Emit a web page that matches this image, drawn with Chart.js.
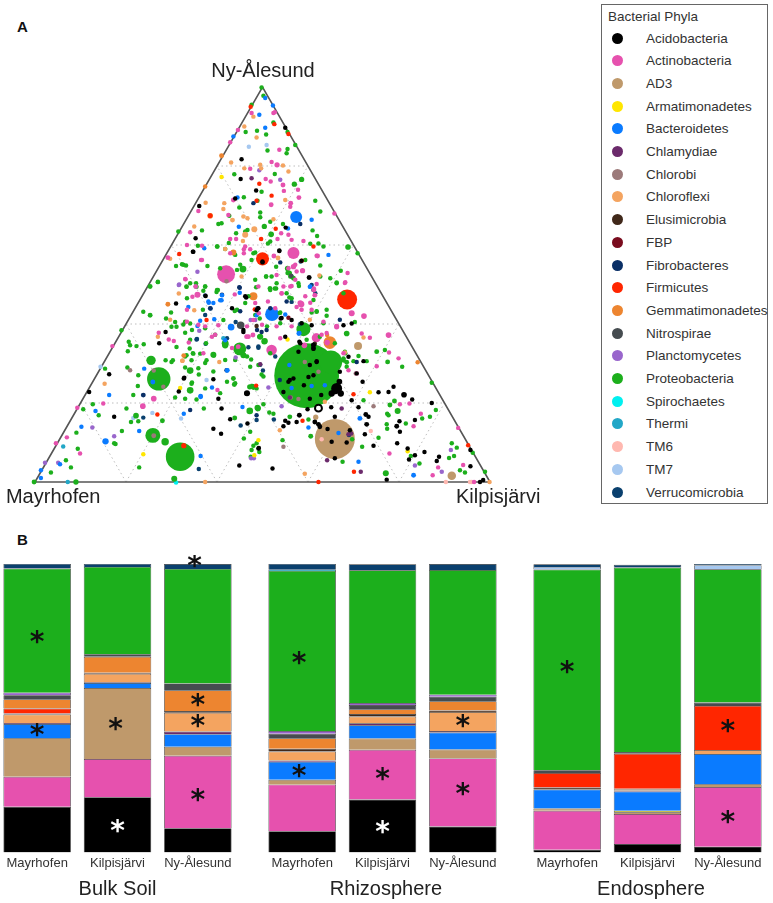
<!DOCTYPE html>
<html>
<head>
<meta charset="utf-8">
<title>Bacterial phyla</title>
<script src="https://cdn.jsdelivr.net/npm/chart.js@4/dist/chart.umd.min.js"></script>
<style>
  html, body { margin: 0; background: #fff; }
  #page { position: relative; width: 773px; height: 903px; overflow: hidden; font-family: "Liberation Sans", Arial, sans-serif; color: #333; }
  canvas { position: absolute; }
  .tag { position: absolute; font-weight: bold; font-size: 15px; color: #111; }
  #legend { position: absolute; left: 601px; top: 4px; width: 165px; height: 498px; border: 1px solid #666; font-size: 13.5px; }
  #legend .head { position: absolute; left: 6px; top: 4px; }
  #legend .row { position: absolute; left: 0; height: 16px; line-height: 16px; white-space: nowrap; }
  #legend .dot { position: absolute; left: 10px; top: 2px; width: 11px; height: 11px; border-radius: 50%; }
  #legend .name { position: absolute; left: 44px; }
</style>
</head>
<body>
<div id="page">
  <div class="tag" style="left:17px;top:18px">A</div>
  <div class="tag" style="left:17px;top:531px">B</div>
  <canvas id="ternary" width="600" height="520" style="left:0;top:0"></canvas>
  <canvas id="bulk" width="241" height="348" style="left:-3px;top:555px"></canvas>
  <canvas id="rhizo" width="248" height="348" style="left:262px;top:555px"></canvas>
  <canvas id="endo" width="246" height="348" style="left:527px;top:555px"></canvas>
  <div id="legend"><div class="head">Bacterial Phyla</div></div>
</div>
<script>
// Phyla in legend and stacking order
const phyla = ["Acidobacteria", "Actinobacteria", "AD3", "Armatimonadetes", "Bacteroidetes", "Chlamydiae", "Chlorobi", "Chloroflexi", "Elusimicrobia", "FBP", "Fibrobacteres", "Firmicutes", "Gemmatimonadetes", "Nitrospirae", "Planctomycetes", "Proteobacteria", "Spirochaetes", "Thermi", "TM6", "TM7", "Verrucomicrobia"];
const colours = ["#000000", "#e651ae", "#bf996b", "#ffe600", "#0a7bff", "#6b2a6b", "#9c7a7a", "#f4a460", "#40281a", "#7a0c1e", "#0a2f66", "#ff2600", "#ed8530", "#464c50", "#9966cc", "#1caf1c", "#00f0f0", "#22a7c7", "#ffb8b0", "#a6c8f0", "#0a406e"];

// Ternary plot: [position along base %, height %, abundance (optional)]
const acidobacteriaPts = [[55,89.7],[45.4,81.7],[45.2,76.7],[48.6,73.8],[44,71.8],[36.1,69.9],[55.1,64.4],[35.3,61.7],[34.7,58.3],[53.7,58.5],[50,55.6],[60.2,51.8],[31,45.2],[37.5,47.1],[46.4,46.7],[28.7,38],[27.3,35.1],[16.3,27.3],[11.9,22.8],[32.7,26.2],[39.2,26],[31.6,22.9],[46.5,22.4,6],[40.3,21.1],[41,18.6],[17.4,16.5],[42.9,15.9],[46.7,14.8],[39.2,13.5],[40.9,12.2],[44.9,4.2],[49.1,8.5],[48.7,43.5],[45.8,38],[54,41.4],[56.4,41],[60.8,39.7],[67.8,39.7],[69.6,40.1],[55,36.8],[58.1,35.5],[61.2,34.6],[61.2,33.7],[68.9,31.7],[72.2,30.6],[60.4,29.6],[61.9,30.4],[70.7,27.5],[72,25.4],[69.6,20.7],[75.5,22.7],[78.8,24.1],[77.7,22.8],[81.1,22.1,8],[82.9,20.9],[87.2,20],[71.1,18.9],[65.1,18.9],[58.1,16.9,6],[59.9,18.4],[55,15.5],[55.7,15],[54.6,14.1],[57.5,15.2],[61.5,15.2,6],[62.3,14.6,6],[62.6,14,6],[65.9,16.5],[72.7,17.1,6],[73.3,16.5],[72.9,14.6,6],[72.5,12.1],[74.4,9.2],[79.5,14.1,6],[80.1,15.4],[80.2,12.7],[79.6,9.8],[83.5,15.7],[81.9,8.5],[82.2,5.7],[83.5,6.8],[85.6,7.6],[88.8,6.4],[88.3,5.3],[95.7,8.1],[95.7,4],[77.3,0.6],[97.8,0],[98.5,0.5],[52.2,3.4],[49.2,8.6],[64.3,13.4],[65.2,10.2],[68.5,10],[65.9,6],[69.2,13.1],[56,25.8],[60.1,26.6],[61.2,27],[59.1,24.5],[60.4,21.1],[62.9,22],[54.6,22.8],[67,27.9],[56.8,26.2],[61.9,30.6],[55.7,25.4],[65.2,22.4,10],[66.3,23.7,30],[67.2,22.4,10],[66.9,25.4,8],[65.9,23,10],[34.8,58.3],[50,55.8],[53.7,58.6],[58.6,56],[60.3,51.8],[46.2,47],[43.3,44],[49.1,44],[54.2,41.5],[58.6,40.2],[61.2,34.7,6],[61.2,33.9,6],[58.3,35.1],[45.8,38.5],[32.8,26.4],[46.6,22.5,9],[57.9,33]];
const acidobacteriaRings = [[62.3,18.7,12]];
const actinobacteriaPts = [[47.6,93.4],[52.4,93.4],[52.7,93.6],[44.6,89.1],[42.9,86],[53.7,84.1],[53.2,80.3,7],[52,81],[47.3,79.3],[50.7,76.7],[51.8,76.1],[54.5,75.2,6],[54.7,73.7],[57.8,74],[58,72,6],[51.9,70.2,6],[56.2,70.6,6],[56.1,69.7],[43.6,71.4,6],[35.9,68.6],[42.5,67.6],[65.8,68],[34.1,63.2],[42.9,61.5],[44.2,61.5],[53.3,61.5],[54.1,63],[55.7,62.6],[56.4,61.3],[59,61],[36.7,59.8],[29.2,56.8,6],[36.5,56.2],[45.9,58.9],[45.9,57.9],[47.3,58.9],[52.5,57.2,6],[62.1,57.2,6],[58.8,53.5,7],[68.7,52.9],[68.2,50.6],[57.2,51.2],[55.7,54.1],[56.8,54.5,7],[33.1,51.3],[35.3,49.5],[61.3,49],[35.7,47.4,9],[34.6,46.9],[17,34.4],[27.2,37.8],[29.4,36.1],[30.5,35.7],[33.8,35.3],[26.1,21.1,8],[23.7,19.2,8],[15,19.9],[9.3,18.8],[7,11.3],[4.6,9.8],[9.9,7.2],[40.1,23.3],[40.3,39.7],[43.9,47.5],[46.5,36.8,6],[49.2,42.7],[48,41],[58.5,45,10],[60.5,45.4],[56.4,49.6],[61.3,48.6,6],[61.5,47.3,6],[69.6,42.7,9],[72.3,42,8],[66.3,39.3,7],[71.8,37.6],[61.9,36.6,16],[64.2,35.3,8],[77.7,37.2,8],[73.6,36.5],[77.8,32.8],[79.9,31.3],[75.1,29.3],[59.2,34.6,8],[70.7,27.5],[68.9,28.3],[80.2,19.7],[82.3,19.9],[84.8,17.3],[83.2,14.1],[77.9,7.2],[87.4,1.7],[88.6,3.7],[93,13.7],[94.1,4.3],[96.5,0],[68.1,50.4],[61.9,50.1],[54.2,47.7],[57.5,44.3],[36.7,56.2],[35.7,47.4],[33,51.4],[33.4,43.6],[38.9,36.8],[46.9,36.8,6],[47.9,37.2,6],[57.2,55],[61.9,57.3],[59.4,47],[58.3,45.3,8],[52.8,44],[51.2,45.7],[66.3,39.5],[69.6,42.7],[42,52.6,80],[56.8,58,36],[52,33.4,28],[61.8,36.5,20],[33.4,60],[42.9,57.9],[46.2,59.6],[53.1,52.4],[49.1,49.5],[54.6,49.5],[48.4,45.3],[54.2,47.8],[46.6,39.4],[49.9,39.8],[53.1,39.4],[39.6,37.3],[33.4,40.6],[35.9,39.8],[37.4,39.4],[37,32.6],[43.3,33.9],[44.7,34.3],[53.9,36.4],[63.4,40.6],[56.1,49.5],[57.5,53.3],[67.8,32.6],[64.1,37.7],[63,37.3],[58.6,43.6],[56.4,39.4],[60.8,43.6]];
const ad3Pts = [[65.9,10.9,400],[71,34.4,16],[91.6,1.6,18],[61.7,16.4,7]];
const armatimonadetesPts = [[41,77.2],[23.8,7],[31.9,23.8],[49.1,10.6],[48.2,6.8],[73.6,22.7],[81.9,7.8],[55.5,36.1]];
const bacteroidetesPts = [[50.6,97.2],[52.3,95.3],[49.3,93],[50.6,89.7],[43.6,87.5],[44.5,72],[44.8,64.6],[55.6,64.2],[60.8,66.4],[64.5,57.5],[37.2,59.2],[60.5,49.5],[41.1,47.3],[38.2,45.4],[41,46],[45,47.9],[33.7,44.3],[39.4,41.2],[35.7,39.5],[24,28.7],[25.9,25.3,6],[16.3,22],[36.4,21.6,6],[38.9,23.9],[42.3,28.3],[13.3,18],[10.2,14],[22.9,12.9],[32.7,17.3],[36.4,6.6],[1.3,1],[1.3,3],[5.5,4.5],[45.6,19,5],[41.8,35.9],[55.9,29.6],[56.4,23.8],[60.8,24.3],[63.7,24.5],[60.1,13.8],[71.4,16.1,6],[71.1,5.1],[83.2,1.7,6],[58,37.6,6],[60.4,49.4],[55,42.4],[48.7,42.2],[66.7,12.4],[36.4,21.8],[40.7,46],[38.1,45.7],[39.2,45.3],[36.3,40.8],[58.1,37.7],[42.2,28.2],[57.4,67.1,36],[52.1,42.5,48],[15.5,10.3,10],[43.1,39.2,11]];
const chlamydiaePts = [[47.6,76.9],[68.9,12.1],[69.5,12.3],[71.6,2.6],[64.2,5.5],[49.5,29.8],[56,21.4],[67.4,18.6]];
const chlorobiPts = [[26.1,28.2],[28.2,24.1],[26.1,11.7,6],[20.9,28.3],[42.1,50.8],[44.6,34.2],[74.4,19.2],[54.6,8.9],[70.5,27.5],[59.3,30.4],[62.3,27.9],[56.2,21.4],[57.9,21]];
const chloroflexiPts = [[46,90],[48,92.5],[48.7,87.2],[43.1,80.9],[46,79.4],[49.5,80.3],[49.7,79.4],[54.5,80.1],[55.7,78.6],[37.5,70.7],[41.6,70.6],[41.4,69.1],[45.8,67.2],[46.7,66.8],[43.4,66.3,6],[35,64.7],[55,71.4],[48.2,64,9],[46.2,62.6,9],[45.7,61],[52.4,66.5],[41.8,59],[29.7,56.5],[62.5,52.3],[53.4,56.7,6],[45.4,52],[31.6,47.7],[15.3,24.9],[37.4,0],[29.7,41.1],[27,36.8],[35,43.5],[40.5,30.4],[32.4,30.7],[53.8,13.1],[59.3,2.1],[72.2,36.6],[60.4,41.1],[68.1,32.8],[99.9,0],[63.7,20.3]];
const elusimicrobiaPts = [[61.5,35],[48.7,39.5]];
const fbpPts = [[55.7,41.6]];
const fibrobacteresPts = [[48,70.6],[53.9,55.6],[44.9,49.3],[58.3,65.3],[23.8,22,6],[34.1,18.2],[42.1,28.3],[49.8,38],[67,41.1],[53.8,25.8],[70.7,30.4],[48.7,16.9],[45,49.2],[37.4,47.2],[38.5,44],[48.9,44],[51.7,44],[41.1,47.4],[55.3,45.7],[45.1,43.2],[48.8,38.5],[50.9,38.5]];
const firmicutesPts = [[47.4,95],[52.6,90.6],[55.7,88.1],[49.3,75.5],[52,72.5],[48.7,71.2],[38.5,67.4,6],[52.9,64.1],[49.7,61.5],[31.7,57.7],[61.2,59.6],[58.6,56],[32.7,9.2,7],[26.9,17.1],[37.7,41],[48.3,43.7],[48.6,24.4],[62.3,0],[70,22.2],[70.1,2.6],[95.2,9.3],[58.8,15.5],[68.6,46.2,100],[50,56.5,43]];
const gemmatimonadetesPts = [[41,82.6,6],[37.4,74.8],[38.5,67.4,8],[43.6,58.1,9],[29.2,45,6],[32.7,32,6],[32.4,30.7],[84.1,30.3],[64.2,37.2],[64.8,35.3,40],[48,47,16]];
const nitrospiraePts = [[45.2,39.7,14],[56.3,52.2,5]];
const planctomycetesPts = [[49.3,78.9],[53.9,76.5],[35.7,53.2],[31.7,50],[35.3,49.5],[2.2,4.9],[5.1,4.9],[12.6,13.8],[17.4,11.6],[47.5,6],[31.6,49.9],[36.1,38.3],[44.1,31.5],[89.4,2.6],[91.4,8.1],[83.5,4.2],[48.1,6],[51.3,23.9],[54.2,19.2],[47.4,41],[48.4,41]];
const proteobacteriaPts = [[59.7,26.9,1050],[65,30.4,130],[31.9,6.4,205],[27.2,26.1,137],[25.9,11.8,56],[28.6,10.2,14],[25.5,30.8,22],[45,33.7,42],[34.1,28.2,11],[34.1,23.2,11],[59,38.7,49],[45.7,53.9,12],[68.8,59.5,8],[51.9,62.7,8],[57,75.4,7],[58.6,76.6,7],[49.8,99.9],[50.2,97.8],[47.6,95.5],[52.4,91],[48.8,88.9],[46.3,88.6],[50.8,88],[55.5,88.6],[57.2,85.3],[51.1,83.9],[55.5,84.3],[55.3,83.2],[43.8,77.9],[52.7,78],[45.9,72.1],[49.8,73.5],[48.9,71.2],[44.9,69.5],[49.5,68.2],[49.5,67],[61.6,71.2],[62.7,68.5],[42.7,67.4],[40.3,65.3],[41,65.5],[31.5,63.4],[36.7,63.7],[50.4,64.7,7],[51.7,65.9],[46.7,63.8],[46.2,63.4],[54.5,65.3],[61,63.7],[62,62.3],[44.2,63],[42.6,60.5],[40.1,59.6],[35.8,59.8],[41.8,59],[51.7,60.9],[51.2,60.4],[60.5,60.3],[62.3,60.4],[63.4,59.6],[48.4,58.1],[48,57.9],[32.3,55.1],[33.2,54.8],[31,54.7],[37.9,54.7],[45.1,55],[50.8,52],[53,54.5],[55.5,53.9],[55.5,52.9],[56.1,52],[62.7,54.8],[62.7,52],[67.2,53.5],[66.3,50.5],[37.4,49.5],[35.4,50.3],[33.3,49.5],[27,50.7],[25.3,49.5,6],[48.6,49.3],[51.7,49],[53,49],[40.2,48.6],[70.9,57.9],[27,50.6],[23.8,43.1],[25.3,42.2,6],[29.9,42.9],[28.8,41.4],[30,39.3],[31.1,39.3],[33,37.8],[19,38.4],[20.6,35.5],[20.9,34.6],[22.3,34.4],[23.9,34.9],[20.4,33.1],[20.3,29],[22.7,27],[15.4,28.7],[21.6,22],[22.6,24.3],[28.7,30.8],[30,30.4],[30.3,30.8],[33,29],[33.3,32.1],[31.1,34.2],[34.8,32.5],[34.4,30.8],[34.4,24.9],[36,27.2],[30.8,21.4],[33,21.1],[35.5,20.9],[37.1,18.6],[20.1,18.6],[22.2,16.8,8],[21.1,15.2],[22.7,15.4],[28,15.5,6],[10.6,18.4],[12.7,19.7],[14,16.9],[9.1,12.5],[19.1,12.9],[17.4,9.8],[17.7,9.6],[9.4,8.4],[6.8,5.5],[7.9,3.7],[3.5,2.4],[-0.2,0,6],[9,0,7],[22.9,3.7],[30.6,0.8,9],[43.6,26.2,6],[43.8,24.7,6],[47.2,24.1,7],[48,23.9,6],[49,18.6,8],[47.2,18,11],[43.9,16.2,6],[37.7,30.8],[39.3,32],[34,33.8],[36.3,32.5],[41.8,34.6,10],[45.8,32.1,9],[39.9,48.1],[35.5,49.4],[33.3,49.4],[43.9,43.3],[37,48.4],[30.8,40.5],[32.6,39.9],[34.1,40.1],[45.9,11],[47.4,6.4],[48.7,9.8],[47.6,8.1],[66.3,50.3],[64.1,42.1],[60.8,42.9],[68.5,37.6,8],[70.3,40.5],[65.9,35.1],[68.1,33],[67.8,30.8,6],[68.5,30.3,6],[70,30.6],[71.1,31.9],[72.9,30.6],[75.1,33,6],[76.9,33.4],[77.5,30.4,6],[80.7,29.2],[87.2,25.1],[88.1,18.2],[78,19.5,6],[79,20.5,6],[79.7,18,9],[77.4,17.3],[77.7,16.9],[86.8,16.5],[85.1,16.1],[81.5,14.8],[77.3,14.6],[77.4,13.5],[75.5,11.2],[71.9,8.9],[69.7,10.8],[60.6,11.6,6],[54.4,10.6],[67.6,5.1],[56,16.5,6],[60.1,15.8],[48.9,18.8,9],[51.5,17.6],[52.4,17.3],[50.2,19.7],[49.8,27.2],[47.5,31],[49.1,29.6],[50.5,35.7,9],[49.3,36.8],[47.8,24.3],[48.7,23.7],[72.2,20.7],[91.6,9.8],[92.7,8.7],[91,6.1],[92.1,6.6],[84.5,4.7],[93.4,3],[94.5,2.4],[96.2,7.4],[98.9,2.6],[77.1,2.2,9],[48,9.2],[49.3,7.6],[47.3,12.7],[82.6,6.6],[51.6,49],[52.7,49],[56.4,46.5],[58,49.6],[55.9,46.7],[53.8,42.8],[49.4,41.4],[61.9,43.1],[58.6,40.1],[62.6,36.8],[55.5,54.1,7],[55.9,52.9,7],[56.8,51.6,6],[50.8,52],[51.7,48.6],[46.9,47],[46.2,45.3],[44.4,43.6],[41.8,35.1,12],[39.2,32.2,9],[34.5,25.2],[47.7,24.2,6],[49.1,18.7],[44,25],[53.9,42.9],[59.7,36],[49.5,36.8,9],[50.4,35.6,9],[32.6,55],[40,59.6],[44,57.5],[40.7,54.1],[34.1,50.3],[37.4,49.5],[40,48.6],[33.4,46.5],[36.9,43.6],[41.4,41],[33,40.6],[34.5,38.5],[37.4,38.9],[34.1,36],[37.6,35.1],[39.6,37.3],[34.7,32.6],[33,31.8],[37.4,30.1],[41.8,30.9],[44,30.9],[35.9,28.8],[39.2,28],[42.2,25.4],[37.4,23.7],[40.7,22.5],[46.6,31.8],[51.7,32.6],[50.2,26.7],[47.3,29.2],[48.4,42.3],[53.9,40.2],[51,39.4],[55.3,47.8],[57.9,50.3],[59.4,56.2],[64.9,51.6],[67.8,47.8],[64.1,43.6],[61.9,43.2],[61.2,46.1],[63.4,40.2],[68.2,32.6],[67.8,31.3],[68.5,29.2],[52,52],[53.1,50.3],[48.4,51.2],[44.4,53.7],[47.6,56.2]];
const spirochaetesPts = [[31,-0.1]];
const thermiPts = [[7.2,0],[6.2,9],[41.4,36.4]];
const tm6Pts = [[73.8,12.9],[90.3,0],[63,10.8],[95.6,0],[96,0]];
const tm7Pts = [[47,84.9],[50.9,85.3,5],[14.4,29.2],[21.6,16.2],[25.8,17.5],[37.7,25.8],[32.1,16.1]];
const verrucomicrobiaPts = [[56.4,52],[38.6,43.9],[23.8,16.3],[36,3.3],[45.2,14.3],[35.5,36.1],[44.1,40.5],[48.7,15.7],[49.1,34],[69,11.9],[56.4,45.6],[52.5,15.8],[58.3,40],[37.5,35],[35.6,36.2],[46.9,34.1],[49.1,34.3],[49.5,29.7],[50.1,28.2],[61.2,48.6],[60.8,49.9],[58.4,55.8],[61.6,47.8],[52.8,31.8],[42.2,36.4],[37.4,42.3]];
const pointLists = [acidobacteriaPts, actinobacteriaPts, ad3Pts, armatimonadetesPts, bacteroidetesPts, chlamydiaePts, chlorobiPts, chloroflexiPts, elusimicrobiaPts, fbpPts, fibrobacteresPts, firmicutesPts, gemmatimonadetesPts, nitrospiraePts, planctomycetesPts, proteobacteriaPts, spirochaetesPts, thermiPts, tm6Pts, tm7Pts, verrucomicrobiaPts];

const triangle = [[0, 0], [100, 0], [50, 100], [0, 0]];
const gridLevels = [20, 40, 60, 80];
const vertexLabels = [["Ny-Ålesund", 50.1, 104], ["Mayrhofen", 4, -3.8], ["Kilpisjärvi", 101.8, -3.8]];

// Relative abundance (%) per sample: bulk M, K, N, rhizosphere M, K, N, endosphere M, K, N
const sites = ["Mayrhofen", "Kilpisjärvi", "Ny-Ålesund"];
const acidobacteria = [15.8, 19.1, 8.4, 7.3, 18.3, 9, 0.9, 2.9, 2];
const actinobacteria = [10.4, 13.3, 25.1, 16.2, 17.3, 23.6, 13.5, 10.4, 20.7];
const ad3 = [13.4, 24.6, 3.1, 1.7, 3.9, 3.1, 0.8, 0.6, 0.9];
const armatimonadetes = [0, 0, 0, 0, 0, 0, 0, 0.5, 0];
const bacteroidetes = [4.9, 1.7, 4.4, 6.2, 4.6, 5.9, 6.6, 6.7, 10.5];
const chlamydiae = [0.4, 0.3, 0.9, 0.5, 0.7, 0.5, 0, 0.4, 0];
const chlorobi = [0, 0, 0, 0, 0, 0, 0, 0, 0];
const chloroflexi = [2.9, 2.9, 6.5, 3.1, 2.3, 6.6, 0, 0.4, 1.4];
const elusimicrobia = [0.2, 0.2, 0.6, 0.9, 0.9, 0.5, 0.7, 0.2, 0];
const fbp = [0.2, 0.2, 0, 0, 0, 0, 0, 0, 0];
const fibrobacteres = [0, 0, 0, 0, 0, 0, 0, 0, 0];
const firmicutes = [1.7, 0, 0, 0, 0, 0, 5, 12.1, 15.3];
const gemmatimonadetes = [3.2, 5.5, 7.2, 3.7, 1.6, 3.2, 0, 0, 0];
const nitrospirae = [1.4, 0.9, 2.4, 1.5, 1.5, 1.6, 1, 0.6, 1.2];
const planctomycetes = [0.9, 0, 0, 1, 0.7, 0.7, 0, 0, 0];
const proteobacteria = [43, 30.3, 39.7, 55.5, 46, 43.2, 69.6, 64, 46.2];
const spirochaetes = [0, 0, 0, 0, 0, 0, 0, 0, 0];
const thermi = [0, 0, 0, 0.4, 0, 0, 0, 0, 0];
const tm6 = [0, 0, 0, 0, 0, 0, 0, 0, 0];
const tm7 = [0, 0, 0, 0, 0, 0, 0.9, 0, 1.4];
const verrucomicrobia = [1.7, 1.1, 1.7, 2.1, 2.1, 2.1, 0.9, 0.9, 0.5];
const barSeries = [acidobacteria, actinobacteria, ad3, armatimonadetes, bacteroidetes, chlamydiae, chlorobi, chloroflexi, elusimicrobia, fbp, fibrobacteres, firmicutes, gemmatimonadetes, nitrospirae, planctomycetes, proteobacteria, spirochaetes, thermi, tm6, tm7, verrucomicrobia];

// Significance asterisks: [bar in panel, height %]
const bulkAsterisks = [[0, 74.3], [0, 42], [0.975, 44.3], [1, 8.7], [1.96, 100.6], [2, 52.4], [2, 45.2], [2, 19.5]];
const rhizoAsterisks = [[-0.04, 67], [-0.04, 28], [1, 27], [1, 8.3], [2, 45.2], [2, 21.6]];
const endoAsterisks = [[0, 63.8], [2, 43.6], [2, 11.9]];

// Legend
const legendBox = document.getElementById('legend');
phyla.forEach((name, i) => {
  const row = document.createElement('div');
  row.className = 'row';
  row.style.top = (25.5 + i * 22.7) + 'px';
  row.innerHTML = '<span class="dot" style="background:' + colours[i] + '"></span><span class="name">' + name + '</span>';
  legendBox.appendChild(row);
});

// Ternary grid lines, 20% apart in all three directions
const gridSets = [];
gridLevels.forEach(v => {
  gridSets.push([{ x: v / 2, y: v }, { x: 100 - v / 2, y: v }]);
  gridSets.push([{ x: v, y: 0 }, { x: v + (100 - v) / 2, y: 100 - v }]);
  gridSets.push([{ x: v, y: 0 }, { x: v / 2, y: v }]);
});
const lineSets = gridSets.map(data => ({
  type: 'scatter', data, showLine: true, pointRadius: 0, borderColor: '#bdbdbd',
  borderWidth: 1, borderDash: [1.5, 3], order: 5, clip: false
}));
lineSets.push({
  type: 'scatter', data: triangle.map(p => ({ x: p[0], y: p[1] })), showLine: true, pointRadius: 0,
  borderColor: '#555', borderWidth: 1.6, order: 4, clip: false
});

// Big bubbles go below the small dots
const toBubble = p => ({ x: p[0], y: p[1], r: Math.sqrt(p[2] || 5) });
const bubbleSets = [];
phyla.forEach((name, i) => {
  const style = { type: 'bubble', label: name, backgroundColor: colours[i], borderWidth: 0, clip: false };
  bubbleSets.push(Object.assign({}, style, { data: pointLists[i].filter(p => p[2] > 12).map(toBubble), order: 3 }));
  bubbleSets.push(Object.assign({}, style, { data: pointLists[i].filter(p => !(p[2] > 12)).map(toBubble), order: 1 + i / 100 }));
});
bubbleSets.push({
  type: 'bubble', label: phyla[0], data: acidobacteriaRings.map(toBubble), backgroundColor: '#fff',
  borderColor: colours[0], borderWidth: 2, order: 0.5, clip: false
});

const vertexPlugin = {
  id: 'vertexText',
  afterDraw(chart) {
    const c = chart.ctx;
    c.save();
    c.font = '20px "Liberation Sans", Arial, sans-serif';
    c.fillStyle = '#222';
    c.textAlign = 'center';
    c.textBaseline = 'middle';
    vertexLabels.forEach(l => c.fillText(l[0], chart.scales.x.getPixelForValue(l[1]), chart.scales.y.getPixelForValue(l[2])));
    c.restore();
  }
};

new Chart(document.getElementById('ternary'), {
  type: 'bubble',
  data: { datasets: bubbleSets.concat(lineSets) },
  options: {
    responsive: false,
    animation: false,
    layout: { padding: { left: 35, right: 110, top: 87, bottom: 38 } },
    plugins: { legend: { display: false }, tooltip: { enabled: false } },
    scales: {
      x: { type: 'linear', min: 0, max: 100, display: false },
      y: { type: 'linear', min: 0, max: 100, display: false }
    }
  },
  plugins: [vertexPlugin]
});

// Stacked bars, one chart per compartment
function drawPanel(id, title, first, asterisks, rightPad, titleShift) {
  const asteriskPlugin = {
    id: 'asterisks',
    afterLayout(chart) {
      // the panel titles sit a little right of the middle bar
      chart.titleBlock.left += titleShift;
      chart.titleBlock.right += titleShift;
    },
    afterDraw(chart) {
      const c = chart.ctx;
      c.save();
      c.font = 'bold 28px "DejaVu Sans", sans-serif';
      c.textAlign = 'center';
      c.textBaseline = 'alphabetic';
      asterisks.forEach(a => {
        c.fillStyle = a[1] < acidobacteria[first + Math.round(a[0])] ? '#fff' : '#111';
        c.fillText('*', chart.scales.x.getPixelForValue(a[0]), chart.scales.y.getPixelForValue(a[1]) + 13);
      });
      c.restore();
    }
  };
  new Chart(document.getElementById(id), {
    type: 'bar',
    data: {
      labels: sites,
      datasets: phyla.map((name, i) => ({
        label: name,
        data: barSeries[i].slice(first, first + 3),
        backgroundColor: colours[i],
        borderColor: '#333',
        borderWidth: 0.7
      }))
    },
    options: {
      responsive: false,
      animation: false,
      layout: { padding: { top: 9, right: rightPad, bottom: 2 } },
      datasets: { bar: { categoryPercentage: 1, barPercentage: 0.84 } },
      plugins: {
        legend: { display: false },
        tooltip: { enabled: false },
        title: { display: true, position: 'bottom', text: title, color: '#222', padding: { top: 3, bottom: 0 }, font: { family: '"Liberation Sans", Arial, sans-serif', size: 20, weight: 'normal' } }
      },
      scales: {
        x: { stacked: true, grid: { display: false, drawTicks: false }, border: { display: false }, ticks: { color: '#333', padding: 3, maxRotation: 0, autoSkip: false, font: { family: '"Liberation Sans", Arial, sans-serif', size: 13 } } },
        y: { stacked: true, min: 0, max: 100, display: false }
      }
    },
    plugins: [asteriskPlugin]
  });
}
drawPanel('bulk', 'Bulk Soil', 0, bulkAsterisks, 0, 0);
drawPanel('rhizo', 'Rhizosphere', 3, rhizoAsterisks, 7, 3.5);
drawPanel('endo', 'Endosphere', 6, endoAsterisks, 5, 3.5);
</script>
</body>
</html>
